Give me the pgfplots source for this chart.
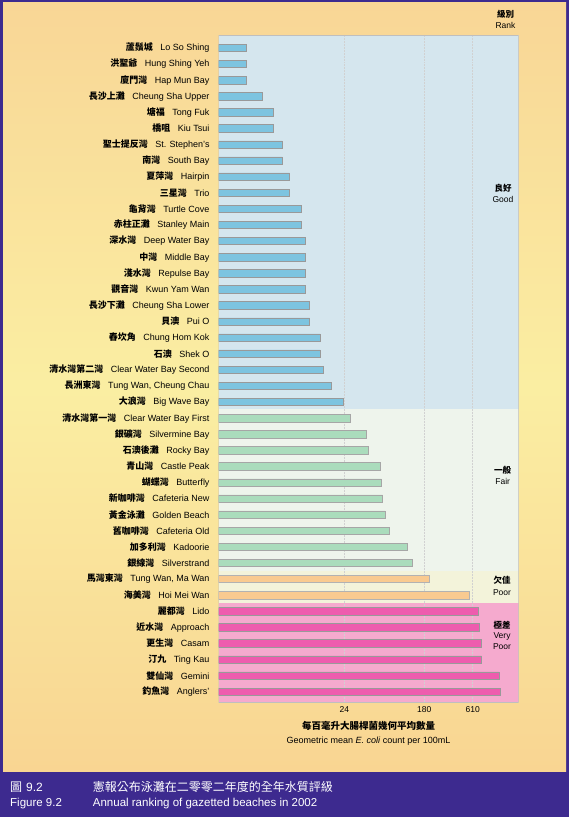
\documentclass[border=0pt]{standalone}
\usepackage{fontspec}
\setmainfont{Liberation Sans}
\newfontfamily\cjk{Noto Sans CJK TC}
\usepackage{pgfplots}
\pgfplotsset{compat=1.18}
\definecolor{purp}{RGB}{61,42,143}
\definecolor{panelO}{RGB}{249,214,150}
\definecolor{panelY}{RGB}{250,238,162}
\definecolor{panelB}{RGB}{249,213,146}
\definecolor{goodbg}{RGB}{213,230,238}
\definecolor{fairbg}{RGB}{238,244,236}
\definecolor{poorbg}{RGB}{243,243,218}
\definecolor{vpbg}{RGB}{245,170,206}
\definecolor{goodbar}{RGB}{125,196,224}
\definecolor{fairbar}{RGB}{170,220,188}
\definecolor{poorbar}{RGB}{249,202,144}
\definecolor{vpbar}{RGB}{238,92,174}
\newcommand{\lab}[2]{{\cjk\bfseries #1}\hspace{7.5pt}#2}
\begin{document}
\begin{tikzpicture}
\begin{scope}[x=1pt,y=1pt]
\fill[purp] (0,0) rectangle (569,817);
\shade[top color=panelO, bottom color=panelB, middle color=panelY] (3,45) rectangle (566,814);
\end{scope}
\begin{axis}[at={(218.5pt,115pt)}, anchor=south west, scale only axis,
  width=300.2pt, height=667pt,
  xmode=log, xmin=1, xmax=1950, ymin=-0.8, ymax=40.64, y dir=reverse,
  xbar, bar width=7.4pt,
  xtick={24,180,610}, xticklabels={24,180,610},
  major tick length=0pt, minor tick num=0,
  axis line style={draw=none},
  xticklabel style={font=\fontsize{8.5}{10}\selectfont, inner sep=0pt, yshift=-4.5pt},
  ytick={0,...,40},
  yticklabel style={font=\fontsize{9}{10}\selectfont, inner sep=0pt, xshift=-8.8pt, anchor=east},
  yticklabels={
    {\lab{蘆鬚城}{Lo So Shing}},
    {\lab{洪聖爺}{Hung Shing Yeh}},
    {\lab{廈門灣}{Hap Mun Bay}},
    {\lab{長沙上灘}{Cheung Sha Upper}},
    {\lab{塘福}{Tong Fuk}},
    {\lab{橋咀}{Kiu Tsui}},
    {\lab{聖士提反灣}{St. Stephen's}},
    {\lab{南灣}{South Bay}},
    {\lab{夏萍灣}{Hairpin}},
    {\lab{三星灣}{Trio}},
    {\lab{龜背灣}{Turtle Cove}},
    {\lab{赤柱正灘}{Stanley Main}},
    {\lab{深水灣}{Deep Water Bay}},
    {\lab{中灣}{Middle Bay}},
    {\lab{淺水灣}{Repulse Bay}},
    {\lab{觀音灣}{Kwun Yam Wan}},
    {\lab{長沙下灘}{Cheung Sha Lower}},
    {\lab{貝澳}{Pui O}},
    {\lab{舂坎角}{Chung Hom Kok}},
    {\lab{石澳}{Shek O}},
    {\lab{清水灣第二灣}{Clear Water Bay Second}},
    {\lab{長洲東灣}{Tung Wan, Cheung Chau}},
    {\lab{大浪灣}{Big Wave Bay}},
    {\lab{清水灣第一灣}{Clear Water Bay First}},
    {\lab{銀礦灣}{Silvermine Bay}},
    {\lab{石澳後灘}{Rocky Bay}},
    {\lab{青山灣}{Castle Peak}},
    {\lab{蝴蝶灣}{Butterfly}},
    {\lab{新咖啡灣}{Cafeteria New}},
    {\lab{黃金泳灘}{Golden Beach}},
    {\lab{舊咖啡灣}{Cafeteria Old}},
    {\lab{加多利灣}{Kadoorie}},
    {\lab{銀線灣}{Silverstrand}},
    {\lab{馬灣東灣}{Tung Wan, Ma Wan}},
    {\lab{海美灣}{Hoi Mei Wan}},
    {\lab{麗都灣}{Lido}},
    {\lab{近水灣}{Approach}},
    {\lab{更生灣}{Casam}},
    {\lab{汀九}{Ting Kau}},
    {\lab{雙仙灣}{Gemini}},
    {\lab{釣魚灣}{Anglers'}}
  },
]
% rank bands
\fill[goodbg] (axis cs:1,-0.8) rectangle (axis cs:1950,22.45);
\fill[fairbg] (axis cs:1,22.45) rectangle (axis cs:1950,32.5);
\fill[poorbg] (axis cs:1,32.5) rectangle (axis cs:1950,34.5);
\fill[vpbg] (axis cs:1,34.5) rectangle (axis cs:1950,40.64);
% grid lines
\foreach \g in {24,180,610}{
  \edef\tmp{\noexpand\draw[densely dotted, draw=black!18, line width=0.5pt] (axis cs:\g,-0.8) -- (axis cs:\g,40.64);}\tmp
}
% Good
\addplot[bar shift=0pt, fill=goodbar, draw=black!40, line width=0.5pt] coordinates {
(2,0) (2,1) (2,2) (3,3) (4,4) (4,5) (5,6) (5,7) (6,8) (6,9) (8,10) (8,11)
(9,12) (9,13) (9,14) (9,15) (10,16) (10,17) (13,18) (13,19) (14,20) (17,21) (23,22)};
% Fair
\addplot[bar shift=0pt, fill=fairbar, draw=black!35, line width=0.5pt] coordinates {
(28,23) (42,24) (44,25) (60,26) (61,27) (63,28) (67,29) (75,30) (116,31) (134,32)};
% Poor
\addplot[bar shift=0pt, fill=poorbar, draw=black!30, line width=0.5pt] coordinates {
(203,33) (557,34)};
% Very poor
\addplot[bar shift=0pt, fill=vpbar, draw=black!40, line width=0.5pt] coordinates {
(700,35) (718,36) (755,37) (767,38) (1191,39) (1222,40)};
\draw[draw=black!25, line width=0.6pt] (rel axis cs:0,0) rectangle (rel axis cs:1,1);
\end{axis}
\begin{scope}[x=1pt,y=1pt]
% rank labels
\node[align=center, font=\fontsize{8.5}{11.5}\selectfont] at (505.5,797.75) {{\cjk\bfseries 級別}\\Rank};
\node[align=center, font=\fontsize{8.5}{11.5}\selectfont] at (503,623.5) {{\cjk\bfseries 良好}\\Good};
\node[align=center, font=\fontsize{8.5}{11.5}\selectfont] at (502.7,341.7) {{\cjk\bfseries 一般}\\Fair};
\node[align=center, font=\fontsize{8.5}{11.5}\selectfont] at (502,231.1) {{\cjk\bfseries 欠佳}\\Poor};
\node[align=center, font=\fontsize{8.5}{10.5}\selectfont] at (502,181.8) {{\cjk\bfseries 極差}\\Very\\Poor};
% axis title
\node[font=\cjk\bfseries\fontsize{9.5}{11}\selectfont] at (368.6,91) {每百毫升大腸桿菌幾何平均數量};
\node[font=\fontsize{9}{11}\selectfont] at (368.6,76) {Geometric mean \textit{E. coli} count per 100mL};
% caption
\node[anchor=base west, inner sep=0pt, text=white, font=\fontsize{12}{14}\selectfont] at (10,25.7) {{\cjk 圖}\hspace{4pt}9.2};
\node[anchor=base west, inner sep=0pt, text=white, font=\fontsize{11.5}{14}\selectfont] at (10,10.9) {Figure 9.2};
\node[anchor=base west, inner sep=0pt, text=white, font=\cjk\fontsize{12}{14}\selectfont] at (92.7,25.7) {憲報公布泳灘在二零零二年度的全年水質評級};
\node[anchor=base west, inner sep=0pt, text=white, font=\fontsize{11.5}{14}\selectfont] at (92.7,10.9) {Annual ranking of gazetted beaches in 2002};
\end{scope}
\end{tikzpicture}
\end{document}
